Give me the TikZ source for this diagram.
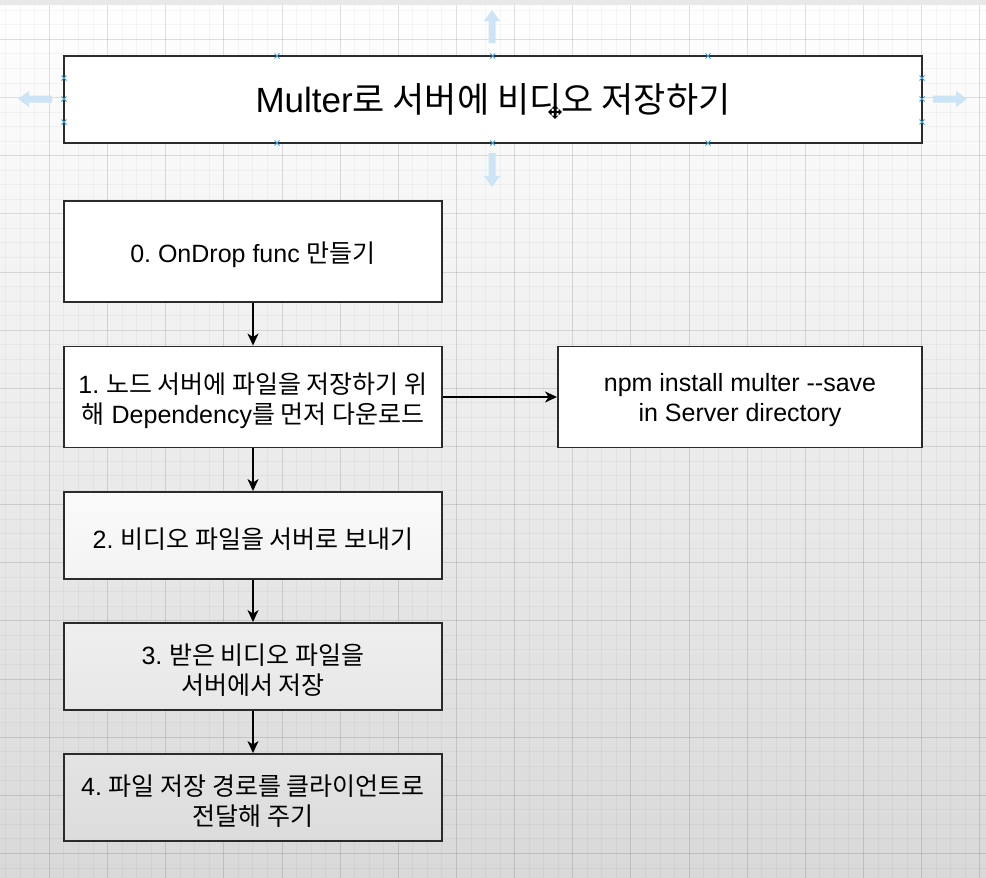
\documentclass[tikz,border=0pt]{standalone}
\usepackage{fontspec}
\setmainfont{Liberation Sans}
\newfontfamily\kr[Scale=1.0]{Noto Sans CJK KR}
\usetikzlibrary{arrows.meta}
\frenchspacing
\newcommand\lowerline[1]{\raisebox{-3.5pt}[\height][\depth]{#1}}
\definecolor{bgbot}{gray}{0.85}
\definecolor{edge}{HTML}{2B2B2B}
\definecolor{selblue}{HTML}{3C9FDC}
\definecolor{hoverblue}{HTML}{CCE5F6}
\definecolor{twotop}{gray}{0.982}
\definecolor{twobot}{gray}{0.953}
\definecolor{threetop}{gray}{0.937}
\definecolor{threebot}{gray}{0.907}
\definecolor{fourtop}{gray}{0.892}
\definecolor{fourbot}{gray}{0.863}
\begin{document}
\begin{tikzpicture}[x=1pt,y=-1pt,
  box/.style={draw=edge, line width=1.9pt, fill=white, align=center,
    font=\fontsize{25}{30}\selectfont, inner sep=0pt},
  flow/.style={draw=black, line width=1.4pt, -{Stealth[length=12pt,width=11pt,inset=3.5pt]}},
  minorgrid/.style={draw=black, opacity=0.035, line width=0.7pt},
  majorgrid/.style={draw=black, opacity=0.085, line width=0.8pt},
  handle/.style={draw=selblue, line width=0.9pt},
  hover/.style={fill=hoverblue},
  cursorarrow/.style={draw=black, line width=1.5pt,
    {Triangle[length=3.5pt,width=6.5pt]}-{Triangle[length=3.5pt,width=6.5pt]}}]

% background
\useasboundingbox (0,0) rectangle (986,878);
\shade[top color=white, middle color=white, bottom color=bgbot] (0,0) rectangle (986,878);
\foreach \i in {0,...,67} \draw[minorgrid] ({5.68+14.537*\i},4) -- ({5.68+14.537*\i},878);
\foreach \i in {0,...,59} \draw[minorgrid] (0,{10.2+14.537*\i}) -- (986,{10.2+14.537*\i});
\foreach \i in {0,...,16} \draw[majorgrid] ({49.3+58.15*\i},4) -- ({49.3+58.15*\i},878);
\foreach \i in {0,...,14} \draw[majorgrid] (0,{39.3+58.15*\i}) -- (986,{39.3+58.15*\i});
\fill[gray!18] (0,0) rectangle (986,4.5);

% nodes
\node[box, line width=1.9pt, minimum width=858pt, minimum height=87pt,
  font=\fontsize{35}{42}\selectfont] (title) at (493,99.5)
  {Multer{\kr 로 서버에 비디오 저장하기}};
\node[box, minimum width=378pt, minimum height=101pt] (b0) at (253,251.5)
  {\lowerline{0. OnDrop func {\kr 만들기}}};
\node[box, minimum width=378pt, minimum height=101pt] (b1) at (253,397)
  {\lowerline{1. {\kr 노드 서버에 파일을 저장하기 위}}\\\lowerline{{\kr 해} Dependency{\kr 를 먼저 다운로드}}};
\node[box, minimum width=364pt, minimum height=101pt] (npm) at (740,397)
  {\lowerline{npm install multer -{}-save}\\\lowerline{in Server directory}};
\node[box, minimum width=378pt, minimum height=87pt, top color=twotop, bottom color=twobot] (b2) at (253,535.5)
  {\lowerline{2. {\kr 비디오 파일을 서버로 보내기}}};
\node[box, minimum width=378pt, minimum height=87pt, top color=threetop, bottom color=threebot] (b3) at (253,666.5)
  {\lowerline{3. {\kr 받은 비디오 파일을}}\\\lowerline{{\kr 서버에서 저장}}};
\node[box, minimum width=378pt, minimum height=87pt, top color=fourtop, bottom color=fourbot] (b4) at (253,797.5)
  {\lowerline{4. {\kr 파일 저장 경로를 클라이언트로}}\\\lowerline{{\kr 전달해 주기}}};

% connectors
\draw[flow] (b0) -- (b1);
\draw[flow] (b1) -- (npm);
\draw[flow] (b1) -- (b2);
\draw[flow] (b2) -- (b3);
\draw[flow] (b3) -- (b4);

% selection handles on the title box
\foreach \hx in {277,492.7,708}
  \foreach \hy in {56,143}
    \draw[handle] (\hx-2.5,\hy-2.5) -- (\hx+2.5,\hy+2.5) (\hx-2.5,\hy+2.5) -- (\hx+2.5,\hy-2.5);
\foreach \hx in {64,922}
  \foreach \hy in {78,99,122}
    \draw[handle] (\hx-2.5,\hy-2.5) -- (\hx+2.5,\hy+2.5) (\hx-2.5,\hy+2.5) -- (\hx+2.5,\hy-2.5);

% hover arrows
\fill[hover] (18,99) -- (29,91) -- (29,95.5) -- (52,95.5) -- (52,102.5) -- (29,102.5) -- (29,107) -- cycle;
\fill[hover] (967,99) -- (956,91) -- (956,95.5) -- (933,95.5) -- (933,102.5) -- (956,102.5) -- (956,107) -- cycle;
\fill[hover] (492,10) -- (484,21) -- (488.5,21) -- (488.5,43) -- (495.5,43) -- (495.5,21) -- (500,21) -- cycle;
\fill[hover] (492,187) -- (484,176) -- (488.5,176) -- (488.5,153) -- (495.5,153) -- (495.5,176) -- (500,176) -- cycle;

% move cursor
\draw[cursorarrow] (548,112) -- (562,112);
\draw[cursorarrow] (555,105) -- (555,119);
\end{tikzpicture}
\end{document}
